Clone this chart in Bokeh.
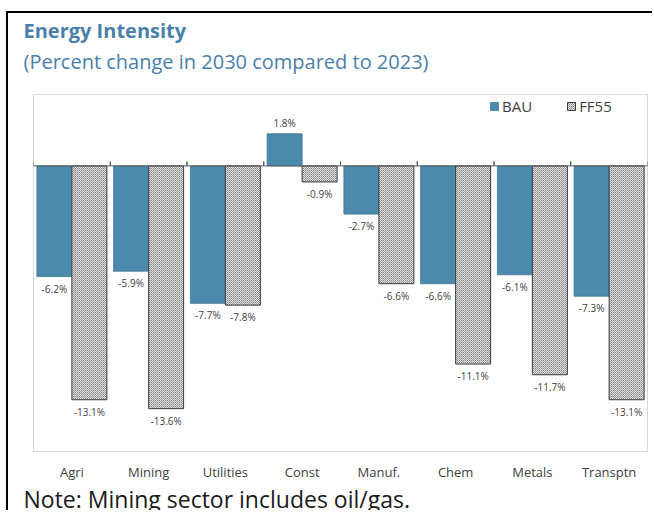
from bokeh.plotting import figure
from bokeh.models import ColumnDataSource, FactorRange, Range1d, Span, Title, Legend, LegendItem, InlineStyleSheet
from bokeh.transform import dodge
from bokeh.core.properties import value
from bokeh.embed import file_html
from bokeh.resources import INLINE

categories = ["Agri", "Mining", "Utilities", "Const", "Manuf.", "Chem", "Metals", "Transptn"]
bau = [-6.2, -5.9, -7.7, 1.8, -2.7, -6.6, -6.1, -7.3]
ff55 = [-13.1, -13.6, -7.8, -0.9, -6.6, -11.1, -11.7, -13.1]
title_text = "Energy Intensity"
subtitle_text = "(Percent change in 2030 compared to 2023)"
note_text = "Note: Mining sector includes oil/gas."

BLUE = "#4b8aad"
TITLE_BLUE = "#4a7fab"
FONT = "Open Sans"

def lbl(vals):
    return [f"{v:.1f}%" for v in vals]

def offs(vals):
    return [-11 if v >= 0 else 12 for v in vals]

src = ColumnDataSource(dict(
    cat=categories, bau=bau, ff55=ff55,
    bau_lbl=lbl(bau), ff55_lbl=lbl(ff55),
    bau_off=offs(bau), ff55_off=offs(ff55),
))

p = figure(
    width=646, height=499,
    x_range=FactorRange(*categories, range_padding=0),
    y_range=Range1d(-16, 4),
    y_axis_location=None,
    output_backend="svg", toolbar_location=None,
    min_border_left=25, min_border_right=7, min_border_top=81, min_border_bottom=59,
)
p.stylesheets = [InlineStyleSheet(css=":host { border-left: 2px solid #000; border-top: 2px solid #000; margin-top: 11px; margin-left: 6px; }")]

p.title.text = title_text
p.title.text_font = FONT
p.title.text_font_style = "bold"
p.title.text_font_size = "20px"
p.title.text_color = TITLE_BLUE
p.title.offset = -10
p.title.standoff = -35
p.add_layout(Title(text=subtitle_text, text_font=FONT, text_font_style="normal",
                   text_font_size="20px", text_color=TITLE_BLUE, offset=-10, standoff=39), "above")

p.outline_line_color = "#d9d9d9"
p.xgrid.grid_line_color = None
p.ygrid.grid_line_color = None
p.background_fill_color = "white"

xa = p.xaxis[0]
xa.axis_line_color = None
xa.major_tick_line_color = None
xa.minor_tick_line_color = None
xa.major_tick_out = 0
xa.major_tick_in = 0
xa.major_label_text_font = FONT
xa.major_label_text_font_size = "13px"
xa.major_label_text_color = "#404040"
xa.major_label_standoff = 11

p.add_layout(Title(text=note_text, text_font=FONT, text_font_style="normal",
                   text_font_size="23px", text_color="#1a1a1a", offset=-10, standoff=-5), "below")

w = 0.456
r1 = p.vbar(x=dodge("cat", -0.228, range=p.x_range), top="bau", bottom=0, width=w, source=src,
            fill_color=BLUE, line_color="#3d7393", line_width=0.8)
r2 = p.vbar(x=dodge("cat", 0.228, range=p.x_range), top="ff55", bottom=0, width=w, source=src,
            fill_color="#e6e6e6", hatch_pattern="diagonal_cross", hatch_color="#7a7a7a",
            hatch_scale=2, hatch_weight=0.8, line_color="#3a3a3a", line_width=1)

p.add_layout(Span(location=0, dimension="width", line_color="#595959", line_width=1))

bounds = ColumnDataSource(dict(cat=categories))
p.segment(x0=dodge("cat", -0.5, range=p.x_range), y0=0, x1=dodge("cat", -0.5, range=p.x_range), y1=0.25,
          source=bounds, line_color="#595959", line_width=1)
p.segment(x0=dodge("cat", 0.5, range=p.x_range), y0=0, x1=dodge("cat", 0.5, range=p.x_range), y1=0.25,
          source=bounds, line_color="#595959", line_width=1)

common = dict(text_font=value(FONT), text_font_size="10px", text_color="#404040",
              text_align="center", text_baseline="middle")
p.text(x=dodge("cat", -0.228, range=p.x_range), y="bau", text="bau_lbl", y_offset="bau_off", source=src, **common)
p.text(x=dodge("cat", 0.228, range=p.x_range), y="ff55", text="ff55_lbl", y_offset="ff55_off", source=src, **common)

legend = Legend(items=[LegendItem(label="BAU", renderers=[r1]), LegendItem(label="FF55", renderers=[r2])],
                orientation="horizontal", location=(456, 335), padding=0, margin=0, spacing=34,
                glyph_width=10, glyph_height=10, label_standoff=3,
                label_text_font=FONT, label_text_font_size="15px", label_text_color="#404040",
                border_line_color=None, background_fill_alpha=0)
p.add_layout(legend, "center")

open("out.html", "w").write(file_html(p, INLINE))
